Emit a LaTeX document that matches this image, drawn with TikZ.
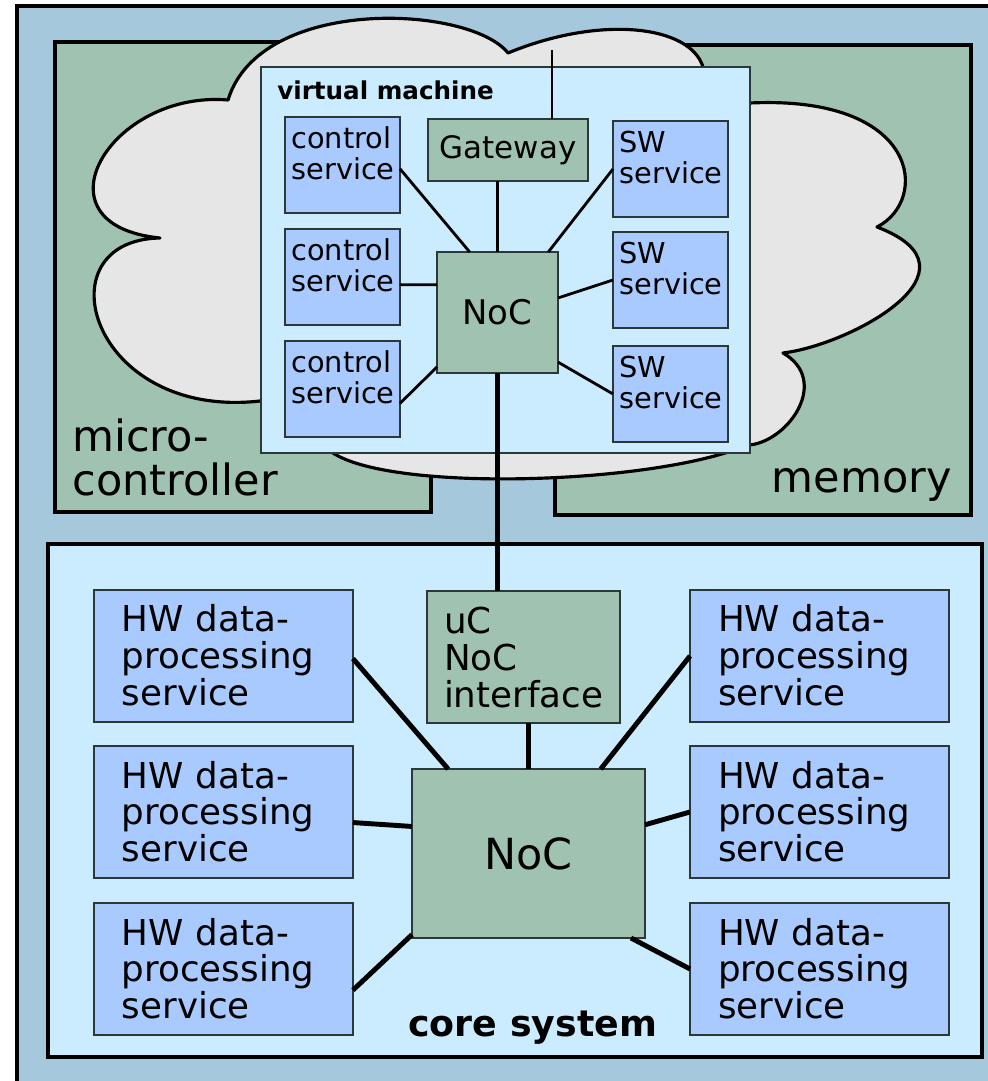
\documentclass[tikz,border=0pt]{standalone}
\usepackage{fontspec}
\setmainfont{DejaVu Sans}
\usetikzlibrary{calc,positioning}
\definecolor{outerbg}{HTML}{A6C8DC}
\definecolor{greennode}{HTML}{A0C2B0}
\definecolor{cloudbg}{HTML}{E6E6E6}
\definecolor{cyanbg}{HTML}{CBECFE}
\definecolor{bluenode}{HTML}{A8CAFF}
\definecolor{edgegray}{HTML}{2B3838}
\hyphenpenalty=10000
\tikzset{
     frame/.style = {draw=black, line width=2.6pt},
    holder/.style = {frame, rectangle, anchor=north west,
                     inner sep=0pt, outer sep=0pt},
      base/.style = {draw=edgegray, line width=1.3pt, rectangle,
                     inner sep=0pt, outer sep=0pt},   % <--- inner boxes
       svc/.style = {base, fill=bluenode, anchor=north west, align=left,
                     font=\fontsize{16.4}{17.6}\selectfont,
                     inner xsep=0.13cm, text width=2.04cm,
                     text height=0.64cm, text depth=1.28cm},
        hw/.style = {base, fill=bluenode, anchor=north west, align=left,
                     font=\fontsize{20.3}{21}\selectfont,
                     inner xsep=0.56cm, text width=4.06cm,
                     text height=0.84cm, text depth=1.8cm},
       noc/.style = {base, fill=greennode},
     cloud/.style = {draw=black, fill=cloudbg, line width=1.8pt, line join=round},
     vlink/.style = {line width=1.6pt},
     clink/.style = {line width=2.8pt},
}

\begin{document}
\begin{tikzpicture}[x=0.02cm, y=-0.02cm]
\useasboundingbox (0,0) rectangle (987,1081);
\draw[frame, fill=outerbg] (17,6) rectangle (1010,1110);

% micro-controller and memory
\node[holder, fill=greennode, minimum width=7.52cm, minimum height=9.4cm] (mcu) at (55,42) {};
\node[holder, fill=greennode, minimum width=8.32cm, minimum height=9.4cm] (mem) at (555,45) {};
\node[anchor=south west, align=left, inner sep=0pt,
      font=\fontsize{24.5}{24.5}\selectfont] (mculbl) at (72,496) {micro-\\controller};
\node[anchor=base east, inner sep=0pt,
      font=\fontsize{24.5}{24.5}\selectfont] (memlbl) at (952,492) {memory};

% the cloud
\draw[cloud] (228,100)
  .. controls (110,90) and (30,225) .. (160,238)
  .. controls (40,240) and (90,420) .. (260,401)
  -- (333,453)
  .. controls (390,490) and (620,485) .. (725,453)
  -- (750,445)
  .. controls (790,440) and (830,380) .. (783,353)
  .. controls (850,345) and (990,270) .. (877,227)
  .. controls (930,200) and (920,95) .. (750,103)
  -- (703,67)
  .. controls (690,25) and (600,15) .. (508,53)
  .. controls (470,5) and (260,-5) .. (228,100)
  -- cycle;

% virtual machine
\node[base, fill=cyanbg, line width=1.6pt, anchor=north west,
      minimum width=9.78cm, minimum height=7.72cm] (vm) at (261,67) {};
\node[anchor=base west, inner sep=0pt,
      font=\bfseries\fontsize{14}{16}\selectfont] (vmlbl) at (277,100) {virtual machine};
\foreach \i/\y in {1/117,2/229,3/341}
  \node[svc] (c\i) at (285,\y) {control\\service};
\foreach \i/\y in {1/121,2/232,3/346}
  \node[svc] (sw\i) at (613,\y) {SW\\service};
\node[noc, minimum width=3.2cm, minimum height=1.24cm,
      font=\fontsize{17.6}{20}\selectfont] (gw) at (508,150) {Gateway};
\node[noc, minimum size=2.42cm,
      font=\fontsize{19.3}{22}\selectfont] (vnoc) at (497.5,312.5) {NoC};
\coordinate (gwtop) at (552,50);

% core system
\node[holder, fill=cyanbg, line width=2.4pt,
      minimum width=18.68cm, minimum height=10.26cm] (core) at (48,544) {};
\node[anchor=base west, inner sep=0pt,
      font=\bfseries\fontsize{20.7}{23}\selectfont] (corelbl) at (408,1036) {core system};
\foreach \i/\y in {1/590,2/746,3/903}
  \node[hw] (hw\i) at (94,\y) {HW data-\\processing\\service};
\foreach \i/\y in {4/590,5/746,6/903}
  \node[hw] (hw\i) at (690,\y) {HW data-\\processing\\service};
\node[hw, fill=greennode, inner xsep=0.34cm, text width=3.18cm,
      text height=0.86cm, text depth=1.78cm] (uc) at (427,591) {uC\\NoC\\interface};
\node[noc, minimum width=4.66cm, minimum height=3.38cm,
      font=\fontsize{24.4}{28}\selectfont] (cnoc) at (528.5,853.5) {NoC};

% links in the virtual machine
\draw[vlink] (gwtop) -- (gwtop |- gw.north);
\draw[vlink] (vnoc.north) -- (vnoc.north |- gw.south);
\draw[vlink] ($(c1.north east)!0.54!(c1.south east)$) -- ($(vnoc.north west)!0.27!(vnoc.north east)$);
\draw[vlink] ($(c2.north east)!0.58!(c2.south east)$) -- ($(vnoc.north west)!0.27!(vnoc.south west)$);
\draw[vlink] ($(c3.north east)!0.65!(c3.south east)$) -- ($(vnoc.north west)!0.95!(vnoc.south west)$);
\draw[vlink] (sw1.west) -- ($(vnoc.north west)!0.92!(vnoc.north east)$);
\draw[vlink] (sw2.west) -- ($(vnoc.north east)!0.38!(vnoc.south east)$);
\draw[vlink] (sw3.west) -- ($(vnoc.north east)!0.91!(vnoc.south east)$);

% links in the core system
\draw[clink] (vnoc.south) -- (vnoc.south |- uc.north);
\draw[clink] (cnoc.north) -- (cnoc.north |- uc.south);
\draw[clink] ($(hw1.north east)!0.52!(hw1.south east)$) -- ($(cnoc.north west)!0.155!(cnoc.north east)$);
\draw[clink] ($(hw2.north east)!0.58!(hw2.south east)$) -- ($(cnoc.north west)!0.34!(cnoc.south west)$);
\draw[clink] ($(hw3.north east)!0.66!(hw3.south east)$) -- ($(cnoc.north west)!0.98!(cnoc.south west)$);
\draw[clink] (hw4.west) -- ($(cnoc.north west)!0.81!(cnoc.north east)$);
\draw[clink] (hw5.west) -- ($(cnoc.north east)!0.33!(cnoc.south east)$);
\draw[clink] (hw6.west) -- ($(cnoc.south west)!0.94!(cnoc.south east)$);
\end{tikzpicture}
\end{document}
